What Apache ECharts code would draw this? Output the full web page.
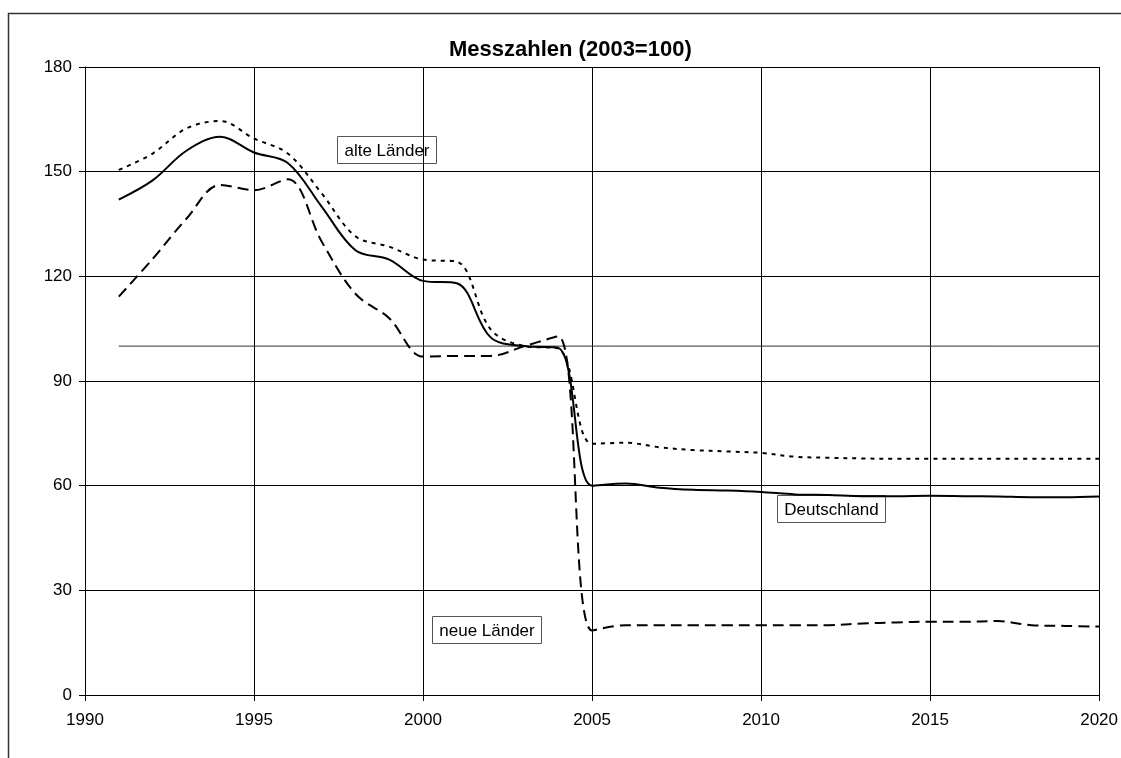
<!DOCTYPE html>
<html>
<head>
<meta charset="utf-8">
<script src="https://cdn.jsdelivr.net/npm/echarts@6/dist/echarts.min.js"></script>
<style>
  html, body { margin: 0; padding: 0; background: #fff; }
  #main { width: 1121px; height: 758px; }
</style>
</head>
<body>
<div id="main"></div>
<script>
// Jahre und Messzahlen (2003=100)
var years = [1991, 1992, 1993, 1994, 1995, 1996, 1997, 1998, 1999, 2000,
             2001, 2002, 2003, 2004, 2005, 2006, 2007, 2008, 2009, 2010,
             2011, 2012, 2013, 2014, 2015, 2016, 2017, 2018, 2019, 2020];
var deutschland = [142, 147.5, 156, 160, 155.5, 152.5, 140, 127.5, 124.8, 118.7,
                   118, 102.5, 100, 99.5, 60, 60.6, 59.4, 58.8, 58.6, 58.2,
                   57.5, 57.3, 57, 57, 57.1, 57, 56.9, 56.7, 56.7, 56.9];
var alteLaender = [150.5, 155.2, 162.4, 164.5, 159.5, 155.2, 143.8, 131.5, 128.5, 124.8,
                   124.2, 104.8, 100, 99.3, 72, 72.3, 71, 70.2, 69.8, 69.4,
                   68.3, 68, 67.8, 67.7, 67.7, 67.7, 67.7, 67.7, 67.7, 67.7];
var neueLaender = [114.2, 125, 136.5, 146.2, 144.7, 147.8, 130, 115, 108, 97,
                   97.2, 97.2, 100, 102.8, 18.5, 20, 20, 20, 20, 20,
                   20, 20, 20.5, 20.8, 21, 21, 21.2, 20, 19.8, 19.6];
// Bezugslinie 100
var refYears = [1991, 2020];
var refValues = [100, 100];

var yTicks = [0, 30, 60, 90, 120, 150, 180];
var xTicks = [1990, 1995, 2000, 2005, 2010, 2015, 2020];

function pairs(xs, ys) {
  return xs.map(function (x, i) { return [x, ys[i]]; });
}

var font = 'Liberation Sans, Arial, sans-serif';

function labelBox(x, y, w, h, text) {
  return {
    type: 'group', left: x, top: y,
    children: [
      { type: 'rect', shape: { x: 0, y: 0, width: w, height: h },
        style: { fill: '#fff', stroke: '#555', lineWidth: 1 } },
      { type: 'text', x: w / 2, y: h / 2 + 1,
        style: { text: text, font: '17px ' + font, fill: '#000', align: 'center', verticalAlign: 'middle' } }
    ]
  };
}

var chart = echarts.init(document.getElementById('main'));
var option = {
  backgroundColor: '#fff',
  animation: false,
  title: {
    text: 'Messzahlen (2003=100)',
    left: 444, top: 34,
    textStyle: { fontFamily: font, fontSize: 22, fontWeight: 'bold', color: '#000' }
  },
  grid: { left: 85, right: 21, top: 67, bottom: 63 },
  xAxis: {
    type: 'value', min: 1990, max: 2020, interval: 5,
    axisLine: { lineStyle: { color: '#000', width: 1 } },
    axisTick: { show: true, length: 6, lineStyle: { color: '#000' } },
    axisLabel: { color: '#000', fontFamily: font, fontSize: 17, margin: 17,
      formatter: function (v) { return xTicks.indexOf(v) >= 0 ? String(v) : ''; } },
    splitLine: { show: true, lineStyle: { color: '#000', width: 1 } }
  },
  yAxis: {
    type: 'value', min: 0, max: 180, interval: 30,
    axisLine: { show: true, lineStyle: { color: '#000', width: 1 } },
    axisTick: { show: true, length: 6, lineStyle: { color: '#000' } },
    axisLabel: { color: '#000', fontFamily: font, fontSize: 17, margin: 13,
      formatter: function (v) { return yTicks.indexOf(v) >= 0 ? String(v) : ''; } },
    splitLine: { show: true, lineStyle: { color: '#000', width: 1 } }
  },
  series: [
    { name: 'Bezug', type: 'line', data: pairs(refYears, refValues), showSymbol: false,
      lineStyle: { color: '#333', width: 1 }, z: 1 },
    { name: 'alte Länder', type: 'line', data: pairs(years, alteLaender), smooth: 0.35, showSymbol: false,
      lineStyle: { color: '#000', width: 2, type: [4, 5] } },
    { name: 'neue Länder', type: 'line', data: pairs(years, neueLaender), smooth: 0.35, showSymbol: false,
      lineStyle: { color: '#000', width: 2, type: [11, 6] } },
    { name: 'Deutschland', type: 'line', data: pairs(years, deutschland), smooth: 0.35, showSymbol: false,
      lineStyle: { color: '#000', width: 2 } }
  ],
  graphic: [
    { type: 'rect', shape: { x: 8.5, y: 13.5, width: 1200, height: 800 },
      style: { fill: 'none', stroke: '#333', lineWidth: 1.5 }, silent: true },
    labelBox(337, 136, 99, 27, 'alte Länder'),
    labelBox(777, 495, 108, 27, 'Deutschland'),
    labelBox(432, 616, 109, 27, 'neue Länder')
  ]
};
chart.setOption(option);
</script>
</body>
</html>
